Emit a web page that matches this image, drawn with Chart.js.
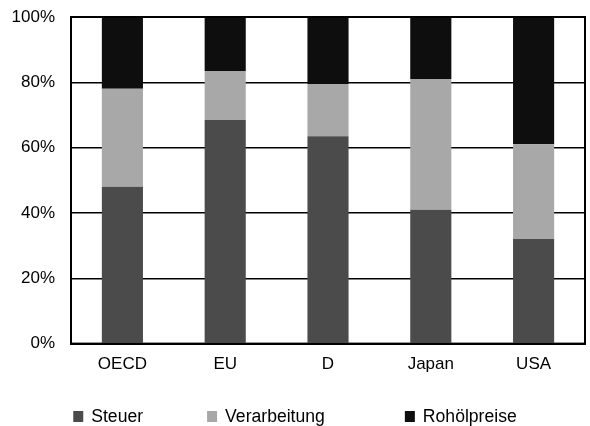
<!DOCTYPE html>
<html><head><meta charset="utf-8">
<script src="https://cdn.jsdelivr.net/npm/chart.js@4/dist/chart.umd.min.js"></script>
<style>html,body{margin:0;padding:0;background:#fff}#wrap{width:590px;height:426px}</style>
</head><body><div id="wrap"><canvas id="c" width="590" height="426"></canvas></div>
<script>
const categories = ["OECD", "EU", "D", "Japan", "USA"];
const steuer = [48, 68.5, 63.5, 41, 32];
const verarbeitung = [30, 15, 16, 40, 29];
const rohoelpreise = [22, 16.5, 20.5, 19, 39];
const yTicks = [0, 20, 40, 60, 80, 100];

const FONT = "'Liberation Sans', Arial, Helvetica, sans-serif";
const FS = 17;
const frame = {
  id: 'frame',
  afterDatasetsDraw(chart) {
    const a = chart.chartArea, ctx = chart.ctx;
    ctx.save(); ctx.strokeStyle = '#000'; ctx.lineWidth = 2;
    ctx.strokeRect(a.left, a.top, a.right - a.left, a.bottom - a.top);
    ctx.restore();
  }
};
// legend drawn centred below the axis
const bottomLegend = {
  id: 'bottomLegend',
  afterDraw(chart) {
    const ctx = chart.ctx, ds = chart.data.datasets;
    ctx.save();
    ctx.font = '17.6px ' + FONT;
    ctx.textBaseline = 'middle';
    const box = 10, toText = 18, gaps = [64, 80];
    const widths = ds.map(d => toText + ctx.measureText(d.label).width);
    const total = widths.reduce((a, b) => a + b, 0) + gaps.reduce((a, b) => a + b, 0);
    let x = chart.width / 2 - total / 2;
    const y = chart.height - 9;
    ds.forEach((d, i) => {
      ctx.fillStyle = d.backgroundColor;
      ctx.fillRect(x, y - box / 2 - 1, box, box + 1);
      ctx.fillStyle = '#000';
      ctx.fillText(d.label, x + toText, y);
      x += widths[i] + (gaps[i] || 0);
    });
    ctx.restore();
  }
};
new Chart(document.getElementById('c'), {
  type: 'bar',
  data: {
    labels: categories,
    datasets: [
      {label: 'Steuer', data: steuer, backgroundColor: '#4b4b4b'},
      {label: 'Verarbeitung', data: verarbeitung, backgroundColor: '#a8a8a8'},
      {label: 'Rohölpreise', data: rohoelpreise, backgroundColor: '#0e0e0e'}
    ]
  },
  options: {
    responsive: false, animation: false,
    layout: {padding: {top: 17, right: 5, left: 8, bottom: 48}},
    datasets: {bar: {categoryPercentage: 1, barPercentage: 0.4}},
    scales: {
      x: {stacked: true, grid: {display: false}, border: {color: '#000', width: 2},
          ticks: {color: '#000', font: {family: FONT, size: FS}, padding: 3}},
      y: {stacked: true, min: 0, max: 100,
          afterBuildTicks(s) { s.ticks = yTicks.map(v => ({value: v})); },
          afterFit(s) { s.width = 63; s.paddingTop = 0; s.paddingBottom = 0; },
          grid: {color: '#000', lineWidth: 1.5, drawTicks: false},
          border: {color: '#000', width: 2},
          ticks: {color: '#000', font: {family: FONT, size: FS}, padding: 16, callback: v => v + '%'}}
    },
    plugins: {tooltip: {enabled: false}, legend: {display: false}}
  },
  plugins: [frame, bottomLegend]
});
</script></body></html>
